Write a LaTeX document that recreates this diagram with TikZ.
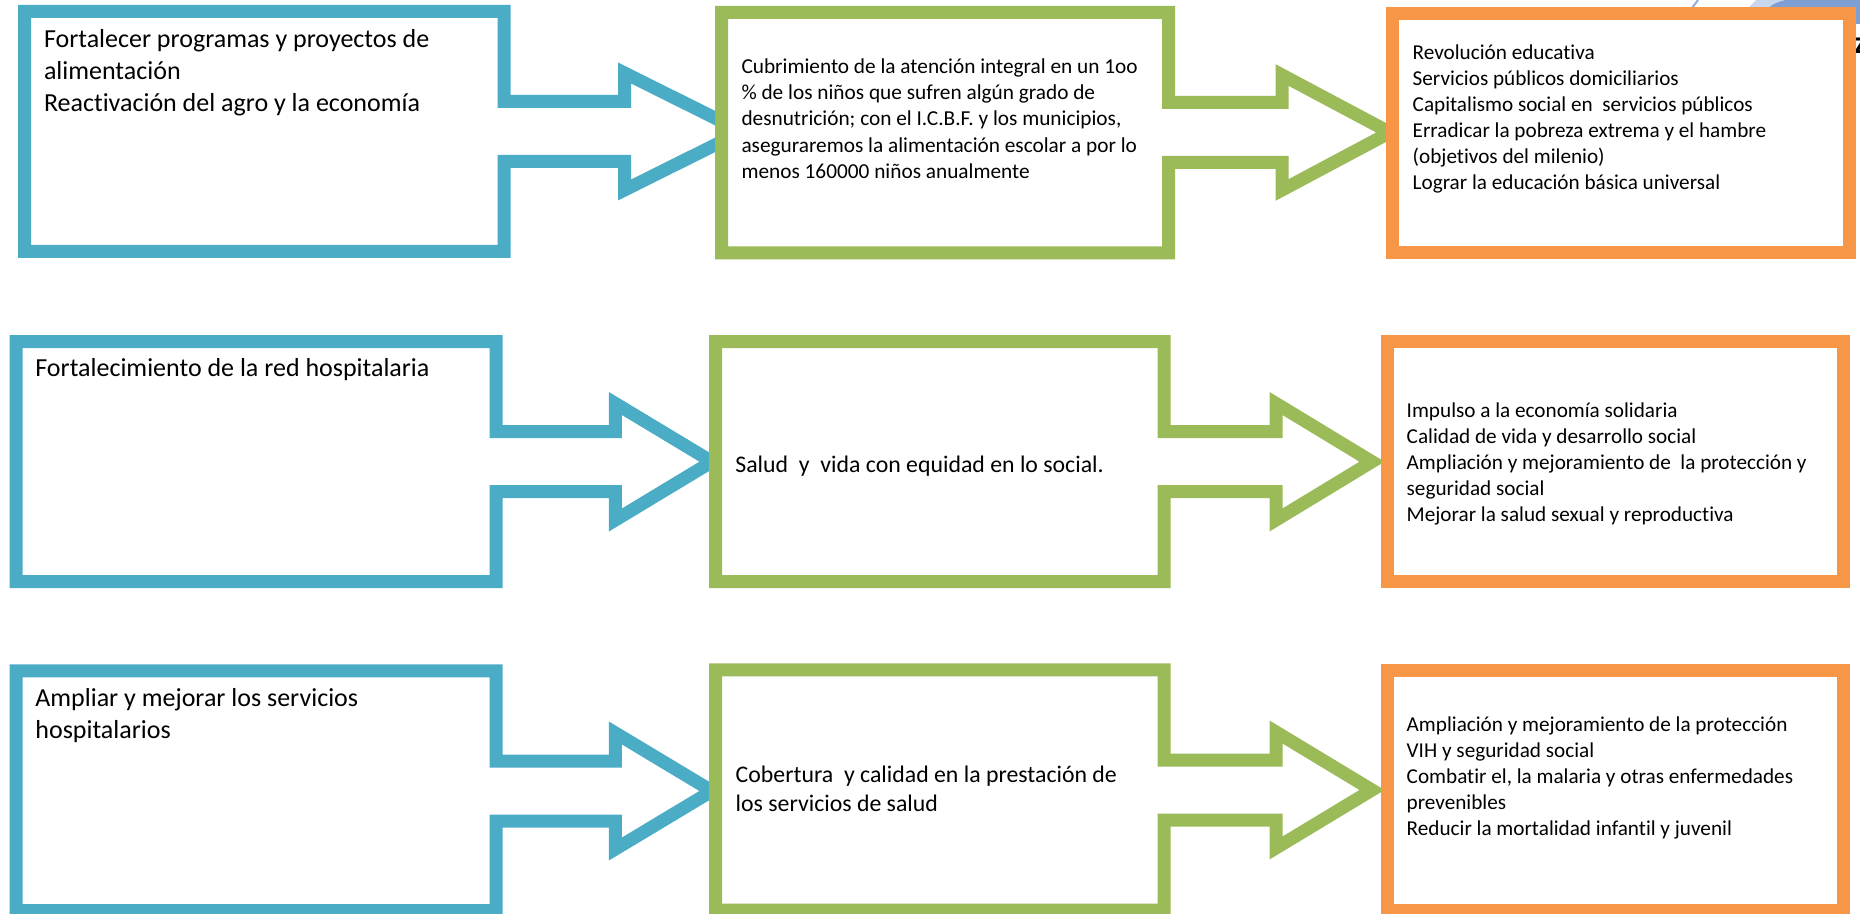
\documentclass[tikz,border=0pt]{standalone}
\usepackage{fontspec}
\setmainfont{Carlito}[Ligatures={NoCommon,NoRare}]
\definecolor{cblue}{HTML}{4BACC6}
\definecolor{cgreen}{HTML}{9BBB59}
\definecolor{corange}{HTML}{F79646}
\definecolor{artlight}{HTML}{C9D7EE}
\definecolor{artdark}{HTML}{7D9FD3}
\definecolor{artline}{HTML}{8FAADC}
\newcommand{\mlines}[1]{\begin{tabular}[t]{@{}l@{}}#1\end{tabular}}
\tikzset{
  callout/.style={line width=6.5pt, fill=white, line join=miter},
  bluecall/.style={callout, draw=cblue},
  greencall/.style={callout, draw=cgreen},
  orangebox/.style={callout, draw=corange},
  txt/.style={anchor=base west, inner sep=0pt, outer sep=0pt, text=black},
  bluetxt/.style={txt, font=\fontsize{13}{16}\selectfont},
  greentxtA/.style={txt, font=\fontsize{10.65}{13.1}\selectfont},
  greentxtB/.style={txt, font=\fontsize{11.9}{14.15}\selectfont},
  orangetxt/.style={txt, font=\fontsize{10.6}{13}\selectfont},
}
\begin{document}
\begin{tikzpicture}[x=0.5pt, y=-0.5pt]
\useasboundingbox (0,0) rectangle (1860,914);
% background fragment (top right)
\fill[artlight] (1748,8) .. controls (1752,3) .. (1756,0) -- (1785,0) .. controls (1775,3) .. (1768,8) -- cycle;
\fill[artdark] (1768,8) .. controls (1775,3) .. (1785,0) -- (1860,0) -- (1860,24) -- (1849,24) -- cycle;
\draw[artline, line width=1pt] (1692,8) -- (1698,0);
\node[txt, font=\bfseries\fontsize{16}{16}\selectfont] (zfrag) at (1854,54) {z};
% row 1
\draw[bluecall] (24.5,11.5) -- (504,11.5) -- (504,101.5) -- (624.5,101.5) -- (624.5,73) -- (742,131.5) -- (624.5,190) -- (624.5,161.5) -- (504,161.5) -- (504,251.5) -- (24.5,251.5) -- cycle;
\draw[greencall] (721.7,12.5) -- (1168.5,12.5) -- (1168.5,102.5) -- (1282,102.5) -- (1282,75) -- (1390,132.5) -- (1282,190) -- (1282,162.5) -- (1168.5,162.5) -- (1168.5,253) -- (721.7,253) -- cycle;
\draw[orangebox] (1392.5,14) rectangle (1849,253);
% row 2
\draw[bluecall] (16,341.7) -- (496,341.7) -- (496,431.7) -- (615.4,431.7) -- (615.4,403.5) -- (712,461.7) -- (615.4,520) -- (615.4,491.7) -- (496,491.7) -- (496,581.7) -- (16,581.7) -- cycle;
\draw[greencall] (715.7,341.7) -- (1164,341.7) -- (1164,431.7) -- (1276,431.7) -- (1276,403.5) -- (1372,461.7) -- (1276,520) -- (1276,491.7) -- (1164,491.7) -- (1164,581.7) -- (715.7,581.7) -- cycle;
\draw[orangebox] (1387,341.7) rectangle (1843,581.7);
% row 3
\draw[bluecall] (16,671) -- (496,671) -- (496,761) -- (615.4,761) -- (615.4,733) -- (712,791) -- (615.4,849) -- (615.4,821) -- (496,821) -- (496,910.5) -- (16,910.5) -- cycle;
\draw[greencall] (715.6,670) -- (1164,670) -- (1164,760) -- (1276,760) -- (1276,732) -- (1372,790) -- (1276,848) -- (1276,820) -- (1164,820) -- (1164,910) -- (715.6,910) -- cycle;
\draw[orangebox] (1387,671) rectangle (1843,910);
% texts
\node[bluetxt] (b1) at (44,47.5) {\mlines{Fortalecer programas y proyectos de\\alimentación\\Reactivación del agro y la economía}};
\node[bluetxt] (b2) at (35.4,376.5) {\mlines{Fortalecimiento de la red hospitalaria}};
\node[bluetxt] (b3) at (35.4,706.5) {\mlines{Ampliar y mejorar los servicios\\hospitalarios}};
\node[greentxtA] (g1) at (741.5,73.5) {\mlines{Cubrimiento de la atención integral en un 1oo\\\% de los niños que sufren algún grado de\\desnutrición; con el I.C.B.F. y los municipios,\\aseguraremos la alimentación escolar a por lo\\menos 160000 niños anualmente}};
\node[greentxtB] (g2) at (735.4,472.5) {\mlines{Salud\ \ y\ \ vida con equidad en lo social.}};
\node[greentxtB] (g3) at (735.7,783) {\mlines{Cobertura\ \ y calidad en la prestación de\\los servicios de salud}};
\node[orangetxt] (o1) at (1412.7,59.2) {\mlines{Revolución educativa\\Servicios públicos domiciliarios\\Capitalismo social en\ \ servicios públicos\\Erradicar la pobreza extrema y el hambre\\(objetivos del milenio)\\Lograr la educación básica universal}};
\node[orangetxt] (o2) at (1406.7,418) {\mlines{Impulso a la economía solidaria\\Calidad de vida y desarrollo social\\Ampliación y mejoramiento de\ \ la protección y\\seguridad social\\Mejorar la salud sexual y reproductiva}};
\node[orangetxt] (o3) at (1406.7,732) {\mlines{Ampliación y mejoramiento de la protección\\VIH y seguridad social\\Combatir el, la malaria y otras enfermedades\\prevenibles\\Reducir la mortalidad infantil y juvenil}};
\end{tikzpicture}
\end{document}
